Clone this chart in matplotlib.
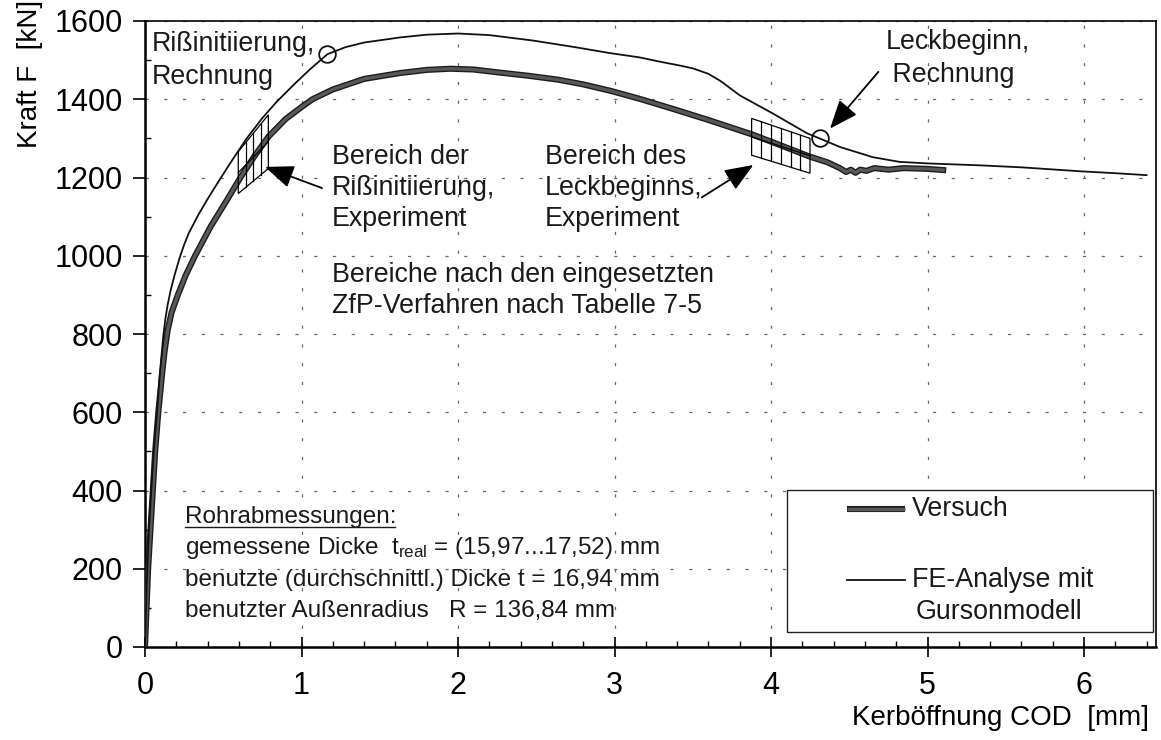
import numpy as np
import matplotlib.pyplot as plt
from matplotlib.patches import Polygon, Rectangle
import matplotlib.patheffects as pe

# Schriften: Arial-kompatibel, Indizes über mathtext in derselben Schrift
plt.rcParams['font.family'] = ['Liberation Sans', 'DejaVu Sans']
plt.rcParams['mathtext.fontset'] = 'custom'
plt.rcParams['mathtext.rm'] = 'Liberation Sans'
plt.rcParams['mathtext.it'] = 'Liberation Sans:italic'

# ==========================================
# Messdaten: Versuch (Kraft über Kerböffnung)
# ==========================================
cod_versuch = [0.0, 0.008, 0.02, 0.035, 0.05, 0.065, 0.085, 0.11, 0.125, 0.145,
               0.17, 0.21, 0.26, 0.32, 0.42, 0.52, 0.61, 0.70, 0.79, 0.90,
               1.0, 1.07, 1.2, 1.4, 1.63, 1.8, 1.95, 2.1, 2.27, 2.45,
               2.64, 2.8, 2.98, 3.17, 3.4, 3.6, 3.88, 4.05, 4.25, 4.36,
               4.44, 4.48, 4.51, 4.54, 4.57, 4.61, 4.66, 4.75, 4.85, 5.0, 5.1]
kraft_versuch = [0, 80, 200, 300, 400, 500, 600, 700, 755, 810,
                 855, 900, 950, 1000, 1075, 1140, 1200, 1255, 1305, 1350,
                 1380, 1400, 1425, 1452, 1467, 1475, 1478, 1476, 1468, 1460,
                 1450, 1438, 1421, 1400, 1372, 1347, 1310, 1284, 1253, 1239,
                 1224, 1214, 1220, 1212, 1220, 1217, 1224, 1220, 1224, 1222, 1219]

# FE-Analyse mit Gursonmodell
cod_fe = [0.0, 0.01, 0.025, 0.045, 0.06, 0.077, 0.095, 0.117, 0.13, 0.145,
          0.164, 0.19, 0.22, 0.25, 0.28, 0.34, 0.40, 0.47, 0.55, 0.65,
          0.75, 0.84, 0.95, 1.05, 1.165, 1.28, 1.40, 1.63, 1.8, 2.0,
          2.2, 2.48, 2.75, 2.97, 3.16, 3.29, 3.42, 3.50, 3.60, 3.68,
          3.80, 4.01, 4.23, 4.31, 4.44, 4.65, 4.82, 5.0, 5.34, 5.6,
          5.97, 6.2, 6.40]
kraft_fe = [0, 150, 300, 430, 520, 600, 700, 795, 838, 875,
            912, 952, 993, 1028, 1058, 1104, 1145, 1190, 1240, 1300,
            1352, 1393, 1437, 1475, 1515, 1533, 1545, 1558, 1565, 1568,
            1564, 1550, 1533, 1518, 1507, 1496, 1486, 1479, 1465, 1446,
            1410, 1364, 1313, 1300, 1278, 1252, 1240, 1236, 1231, 1226,
            1216, 1211, 1206]

# berechnete Zeitpunkte (Rißinitiierung, Leckbeginn) auf der FE-Kurve
cod_rechnung = [1.165, 4.31]
kraft_rechnung = [1515, 1300]

x_ticks = [0, 1, 2, 3, 4, 5, 6]
y_ticks = [0, 200, 400, 600, 800, 1000, 1200, 1400, 1600]

FS = 19.3
VERSUCH_FARBE = '#585858'

fig = plt.figure(figsize=(11.61, 7.40), dpi=100)
ax = fig.add_axes([145 / 1161, 93 / 740, 1011 / 1161, 626 / 740])
ax.set_xlim(0, 6.46)
ax.set_ylim(0, 1600)

# Gitter
ax.set_xticks(x_ticks)
ax.set_yticks(y_ticks)
ax.set_xticks(np.arange(0, 6.5, 0.2), minor=True)
ax.set_yticks(np.arange(0, 1601, 100), minor=True)
ax.grid(True, which='major', linestyle=(0, (2.5, 12.5)), color='#666666', linewidth=0.9, zorder=0)

# Kurven
ax.plot(cod_versuch, kraft_versuch, color=VERSUCH_FARBE, linewidth=2.4, zorder=3,
        path_effects=[pe.Stroke(linewidth=4.4, foreground='#1c1c1c'), pe.Normal()])
ax.plot(cod_fe, kraft_fe, color='#111111', linewidth=1.3, zorder=3)
ax.plot(cod_rechnung, kraft_rechnung, linestyle='none', marker='o', markersize=12,
        markerfacecolor='none', markeredgecolor='#111111', markeredgewidth=1.3, zorder=4)


# schraffierte Bereiche (Parallelogramme mit Unterteilung)
def bereich(x0, x1, lo0, hi0, lo1, hi1, nspalten):
    ax.add_patch(Polygon([(x0, lo0), (x0, hi0), (x1, hi1), (x1, lo1)], closed=True,
                         fill=False, edgecolor='black', linewidth=0.9, zorder=4))
    for i in range(1, nspalten):
        f = i / nspalten
        xi = x0 + (x1 - x0) * f
        ax.plot([xi, xi], [lo0 + (lo1 - lo0) * f, hi0 + (hi1 - hi0) * f],
                color='black', linewidth=0.9, zorder=4)
    ax.plot([x0, x1], [(lo0 + hi0) / 2, (lo1 + hi1) / 2], color='black', linewidth=0.9, zorder=4)


bereich(0.596, 0.788, 1159, 1266, 1223, 1360, 4)
bereich(3.876, 4.249, 1257, 1351, 1211, 1300, 6)

# Pfeile und Beschriftungen
pfeil = dict(arrowstyle='-|>,head_length=0.8,head_width=0.32', color='black', lw=1.3,
             mutation_scale=22, shrinkA=0, shrinkB=0)
ax.annotate('', xy=(0.767, 1227), xytext=(1.131, 1173), arrowprops=pfeil, zorder=5)
ax.annotate('', xy=(3.887, 1232), xytext=(3.557, 1149), arrowprops=pfeil, zorder=5)
ax.annotate('', xy=(4.377, 1325), xytext=(4.686, 1470), arrowprops=pfeil, zorder=5)

ax.text(0.045, 1500, 'Rißinitiierung,\nRechnung', fontsize=FS, ha='left', va='center',
        linespacing=1.35, color='#1a1a1a')
ax.text(4.73, 1503, 'Leckbeginn,\n Rechnung', fontsize=FS, ha='left', va='center',
        linespacing=1.35, color='#1a1a1a')
ax.text(1.195, 1173, 'Bereich der\nRißinitiierung,\nExperiment', fontsize=FS, ha='left',
        va='center', linespacing=1.25, color='#1a1a1a')
ax.text(2.556, 1173, 'Bereich des\nLeckbeginns,\nExperiment', fontsize=FS, ha='left',
        va='center', linespacing=1.25, color='#1a1a1a')
ax.text(1.195, 912, 'Bereiche nach den eingesetzten\nZfP-Verfahren nach Tabelle 7-5',
        fontsize=FS, ha='left', va='center', linespacing=1.25, color='#1a1a1a')

# Rohrabmessungen
FS2 = 17.5
t_kopf = ax.text(0.256, 332, 'Rohrabmessungen:', fontsize=FS2, ha='left', va='center', color='#1a1a1a')
ax.text(0.256, 253, r'gemessene Dicke  t$_{\rm real}$ = (15,97...17,52) mm', fontsize=FS2,
        ha='left', va='center', color='#1a1a1a')
ax.text(0.256, 171, 'benutzte (durchschnittl.) Dicke t = 16,94 mm', fontsize=FS2,
        ha='left', va='center', color='#1a1a1a')
ax.text(0.256, 92, 'benutzter Außenradius   R = 136,84 mm', fontsize=FS2,
        ha='left', va='center', color='#1a1a1a')

# Legende als eigener Kasten
ax.add_patch(Rectangle((0.635, 0.024), 0.362, 0.227, transform=ax.transAxes,
                       facecolor='white', edgecolor='#222222', linewidth=1.0, zorder=6))
ax.plot([0.694, 0.752], [0.2204, 0.2204], transform=ax.transAxes, color=VERSUCH_FARBE,
        linewidth=2.4, zorder=7, solid_capstyle='butt',
        path_effects=[pe.Stroke(linewidth=4.4, foreground='#1c1c1c'), pe.Normal()])
ax.text(0.759, 0.2204, 'Versuch', transform=ax.transAxes, fontsize=FS, ha='left',
        va='center', zorder=7, color='#1a1a1a')
ax.plot([0.694, 0.752], [0.107, 0.107], transform=ax.transAxes, color='#111111',
        linewidth=1.3, zorder=7)
ax.text(0.759, 0.107, 'FE-Analyse mit', transform=ax.transAxes, fontsize=FS, ha='left',
        va='center', zorder=7, color='#1a1a1a')
ax.text(0.762, 0.056, 'Gursonmodell', transform=ax.transAxes, fontsize=FS, ha='left',
        va='center', zorder=7, color='#1a1a1a')

# Achsen
for s in ['left', 'bottom']:
    ax.spines[s].set_linewidth(1.8)
for s in ['top', 'right']:
    ax.spines[s].set_linewidth(1.2)
ax.tick_params(axis='x', which='major', direction='inout', length=14, width=1.2,
               labelsize=22, pad=10)
ax.tick_params(axis='y', which='major', direction='out', length=9, width=1.2,
               labelsize=22, pad=7)
ax.tick_params(which='minor', direction='in', length=4, width=1.0)

ax.set_xlabel('Kerböffnung COD  [mm]', fontsize=20)
ax.xaxis.label.set_ha('right')
ax.xaxis.label.set_va('center')
ax.xaxis.set_label_coords(0.993, -0.113)
ax.set_ylabel('Kraft F  [kN]', fontsize=20)
ax.yaxis.label.set_va('center')
ax.yaxis.set_label_coords(-0.114, 0.915)

# Unterstreichung der Überschrift
fig.canvas.draw()
bb = t_kopf.get_window_extent()
inv = ax.transData.inverted()
ux0, uy = inv.transform((bb.x0, bb.y0 + 1))
ux1, _ = inv.transform((bb.x1 - 2, bb.y0 + 1))
ax.plot([ux0, ux1], [uy, uy], color='#1a1a1a', linewidth=1.0)

fig.savefig('out.png', dpi=100)
